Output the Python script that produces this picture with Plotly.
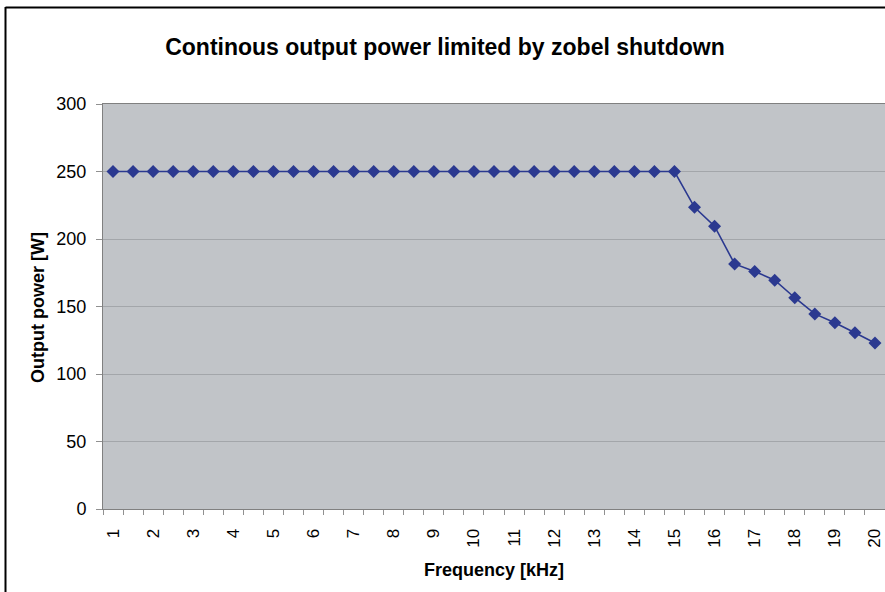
import plotly.graph_objects as go

# Frequency steps (kHz) and the continuous output power at each step (W)
frequency_khz = [1, 1.5, 2, 2.5, 3, 3.5, 4, 4.5, 5, 5.5, 6, 6.5, 7, 7.5, 8, 8.5,
                 9, 9.5, 10, 10.5, 11, 11.5, 12, 12.5, 13, 13.5, 14, 14.5, 15,
                 15.5, 16, 16.5, 17, 17.5, 18, 18.5, 19, 19.5, 20]
output_power_w = [250, 250, 250, 250, 250, 250, 250, 250, 250, 250, 250, 250,
                  250, 250, 250, 250, 250, 250, 250, 250, 250, 250, 250, 250,
                  250, 250, 250, 250, 250,
                  223.5, 209.5, 181.5, 176, 169.5, 156.5, 144.5, 138, 130.5, 123]
tick_labels = ["1", "2", "3", "4", "5", "6", "7", "8", "9", "10",
               "11", "12", "13", "14", "15", "16", "17", "18", "19", "20"]
tick_positions = [1, 2, 3, 4, 5, 6, 7, 8, 9, 10,
                  11, 12, 13, 14, 15, 16, 17, 18, 19, 20]

W, H = 885, 592
L, R, T, B = 103, 0, 104, 83
pw, ph = W - L - R, H - T - B

def px(x):
    return (x - L) / pw

def py(y):
    return (H - B - y) / ph

FONT = "Liberation Sans, Arial, sans-serif"

fig = go.Figure(go.Scatter(
    x=frequency_khz, y=output_power_w, mode="lines+markers",
    line=dict(color="#2b3990", width=1.6),
    marker=dict(symbol="diamond", size=10, color="#2b3990"),
    hoverinfo="x+y",
))

fig.update_layout(
    width=W, height=H,
    margin=dict(l=L, r=R, t=T, b=B),
    paper_bgcolor="white",
    plot_bgcolor="#c1c4c8",
    showlegend=False,
    title=dict(text="<b>Continous output power limited by zobel shutdown</b>",
               x=445 / W, xanchor="center", y=1 - 47 / H, yanchor="middle",
               font=dict(family=FONT, size=23, color="black")),
    font=dict(family=FONT, color="black"),
    xaxis=dict(
        range=[0.75, 20.25], tickmode="array", tickvals=tick_positions,
        ticktext=tick_labels, tickangle=-90, ticks="", ticklen=0,
        ticklabelstandoff=12,
        tickfont=dict(size=17), showgrid=False, zeroline=False,
        showline=True, linecolor="#808080", linewidth=1, mirror=True,
        minor=dict(tick0=0.75, dtick=0.5, ticks="outside", ticklen=5,
                   tickcolor="#909090", showgrid=False),
    ),
    yaxis=dict(
        range=[0, 300], dtick=50, ticks="outside", ticklen=6,
        tickcolor="#909090", tickfont=dict(size=18),
        ticklabelstandoff=6,
        showgrid=True, gridcolor="#a3a6aa", gridwidth=1, zeroline=False,
        showline=True, linecolor="#808080", linewidth=1, mirror=True,
    ),
    annotations=[
        dict(text="<b>Frequency [kHz]</b>", xref="paper", yref="paper",
             x=px(494), y=py(570), xanchor="center", yanchor="middle",
             showarrow=False, font=dict(family=FONT, size=18)),
        dict(text="<b>Output power [W]</b>", xref="paper", yref="paper",
             x=px(38), y=py(308), xanchor="center", yanchor="middle",
             textangle=-90, showarrow=False, font=dict(family=FONT, size=18)),
    ],
    shapes=[
        dict(type="line", xref="paper", yref="paper",
             x0=px(5.5), x1=px(W + 2), y0=py(7.5), y1=py(7.5),
             line=dict(color="black", width=2)),
        dict(type="line", xref="paper", yref="paper",
             x0=px(5.5), x1=px(5.5), y0=py(7), y1=py(H + 2),
             line=dict(color="black", width=2)),
    ],
)

fig.write_html("out.html")
